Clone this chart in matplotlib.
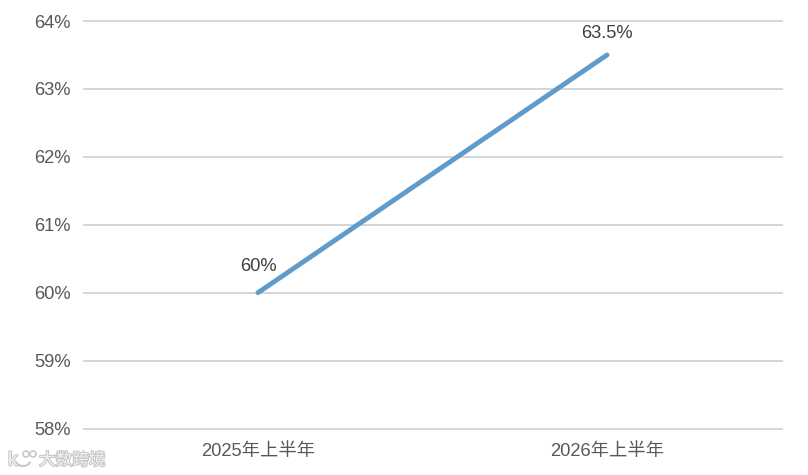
import matplotlib
matplotlib.use('Agg')
from matplotlib import patheffects as pe
from matplotlib import pyplot as plt
from matplotlib.patches import Arc, Circle
from matplotlib.transforms import IdentityTransform

plt.rcParams['font.family'] = ['Liberation Sans', 'Noto Sans CJK SC']

PERIODS = ['2025年上半年', '2026年上半年']
SHARE = [60, 63.5]
POINT_LABELS = ['60%', '63.5%']
Y_TICKS = [58, 59, 60, 61, 62, 63, 64]

GREY = '#595959'
RULE = '#D2D2D2'
WIDTH, HEIGHT = 808, 475


def add_watermark(fig):
    # faint logo + name, bottom left (pixel coords measured from the top)
    outline = [pe.withStroke(linewidth=1.4, foreground='#C4C4C4')]
    fig.text(39 / WIDTH, 1 - 460 / HEIGHT, '大数跨境', fontsize=12, color='#F2F2F2', va='center',
             path_effects=outline)
    fig.text(8 / WIDTH, 1 - 461 / HEIGHT, 'k', fontsize=14, color='#F2F2F2', va='center',
             path_effects=outline)
    for cx in [26, 33]:
        fig.add_artist(Circle((cx, HEIGHT - 454), 3, transform=IdentityTransform(),
                              facecolor='none', edgecolor='#C8C8C8', linewidth=1.2))
    fig.add_artist(Arc((23, HEIGHT - 459), 16, 14, theta1=200, theta2=340, transform=IdentityTransform(),
                       edgecolor='#C8C8C8', linewidth=1.5))


def main():
    fig = plt.figure(figsize=(WIDTH / 100, HEIGHT / 100), dpi=100)
    ax = fig.add_axes([83.5 / WIDTH, 1 - 428.5 / HEIGHT, (781.5 - 83.5) / WIDTH, (428.5 - 21) / HEIGHT])

    ax.plot(range(len(SHARE)), SHARE, color='#5F9BCB', linewidth=3.5, solid_capstyle='round', zorder=3)

    ax.set_xlim(-0.5, 1.5)
    ax.set_ylim(58, 64)
    ax.set_xticks(range(len(PERIODS)))
    ax.set_xticklabels(PERIODS)
    ax.set_yticks(Y_TICKS)
    ax.set_yticklabels([f'{t}%' for t in Y_TICKS])
    ax.tick_params(length=0, labelsize=13.2, labelcolor=GREY)
    ax.tick_params(axis='x', pad=10.5)
    ax.tick_params(axis='y', pad=9)

    ax.grid(axis='y', color=RULE, linewidth=1.3, clip_on=False)
    ax.set_axisbelow(True)
    for side in ['top', 'right', 'left', 'bottom']:
        ax.spines[side].set_visible(False)

    # the two labels don't sit at the same height above their points
    for i, (label, rise) in enumerate(zip(POINT_LABELS, [12.5, 9])):
        ax.annotate(label, (i, SHARE[i]), xytext=(0, rise), textcoords='offset points',
                    ha='center', va='bottom', fontsize=13.2, color='#404040')

    add_watermark(fig)

    plt.savefig('out.png', dpi=100)
    plt.close()


if __name__ == '__main__':
    main()
